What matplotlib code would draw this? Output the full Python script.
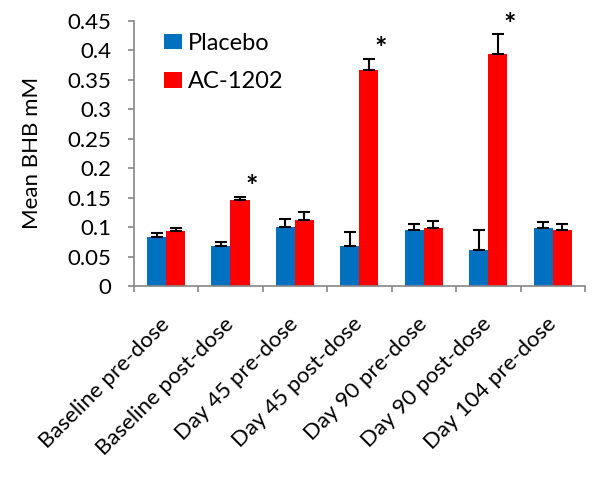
import numpy as np
import matplotlib.pyplot as plt
import matplotlib.transforms as mtransforms

# values
categories = ['Baseline pre-dose', 'Baseline post-dose', 'Day 45 pre-dose',
              'Day 45 post-dose', 'Day 90 pre-dose', 'Day 90 post-dose',
              'Day 104 pre-dose']
placebo = [0.083, 0.068, 0.0995, 0.068, 0.0945, 0.062, 0.0985]
placebo_err = [0.0075, 0.007, 0.014, 0.023, 0.011, 0.033, 0.011]
ac1202 = [0.093, 0.1455, 0.112, 0.366, 0.099, 0.394, 0.0955]
ac1202_err = [0.006, 0.006, 0.013, 0.020, 0.012, 0.033, 0.0095]
significant = [False, True, False, True, False, True, False]
yticks = [0, 0.05, 0.1, 0.15, 0.2, 0.25, 0.3, 0.35, 0.4, 0.45]
ytick_labels = ['0', '0.05', '0.1', '0.15', '0.2', '0.25', '0.3', '0.35', '0.4', '0.45']

plt.rcParams['font.family'] = ['Lato', 'DejaVu Sans']

fig = plt.figure(figsize=(6, 4.84), dpi=100)
ax = fig.add_axes([0.223, 0.409, 0.752, 0.548])

x = np.arange(len(categories))
w = 0.295
axis_gray = '#868686'

ax.bar(x - w / 2, placebo, w, color='#0070C0', label='Placebo', zorder=2)
ax.bar(x + w / 2, ac1202, w, color='#FF0000', label='AC-1202', zorder=2)

# Excel-style plus-only error bars
ax.errorbar(x - w / 2, placebo, yerr=[np.zeros(len(x)), placebo_err], fmt='none',
            ecolor='black', elinewidth=1.5, capsize=4, capthick=1.5, zorder=3)
ax.errorbar(x + w / 2, ac1202, yerr=[np.zeros(len(x)), ac1202_err], fmt='none',
            ecolor='black', elinewidth=1.5, capsize=4, capthick=1.5, zorder=3)

for i, sig in enumerate(significant):
    if sig:
        ax.text(x[i] + w / 2 + 0.18, ac1202[i] + ac1202_err[i] - 0.006, '*',
                ha='center', va='bottom', fontsize=21, fontweight='bold')

ax.set_xlim(-0.5, len(categories) - 0.5)
ax.set_ylim(0, 0.45)
ax.set_yticks(yticks)
ax.set_yticklabels(ytick_labels, fontsize=16)
ax.set_xticks(x)
ax.set_xticklabels(categories, rotation=45, ha='right', rotation_mode='anchor',
                   fontsize=16)
ax.tick_params(axis='x', length=0, pad=20)
ax.set_xticks(np.arange(len(categories) + 1) - 0.5, minor=True)
ax.tick_params(axis='x', which='minor', length=4, color=axis_gray, width=1.2)
ax.tick_params(axis='y', length=4, color=axis_gray, width=1.2, pad=12)

# nudge the rotated labels a little to the left, like Excel does
shift = mtransforms.ScaledTranslation(-7 / 100, 0, fig.dpi_scale_trans)
for lbl in ax.get_xticklabels():
    lbl.set_transform(lbl.get_transform() + shift)

ax.set_ylabel('Mean BHB mM', fontsize=16)
ax.yaxis.set_label_coords(-0.204, 0.5)

for side in ['top', 'right']:
    ax.spines[side].set_visible(False)
for side in ['left', 'bottom']:
    ax.spines[side].set_color(axis_gray)
    ax.spines[side].set_linewidth(1.2)

ax.legend(loc='upper left', bbox_to_anchor=(0.02, 1.035), frameon=False,
          fontsize=17, handlelength=0.75, handleheight=0.65, handletextpad=0.25,
          labelspacing=0.75)

fig.savefig('out.png', dpi=100)
